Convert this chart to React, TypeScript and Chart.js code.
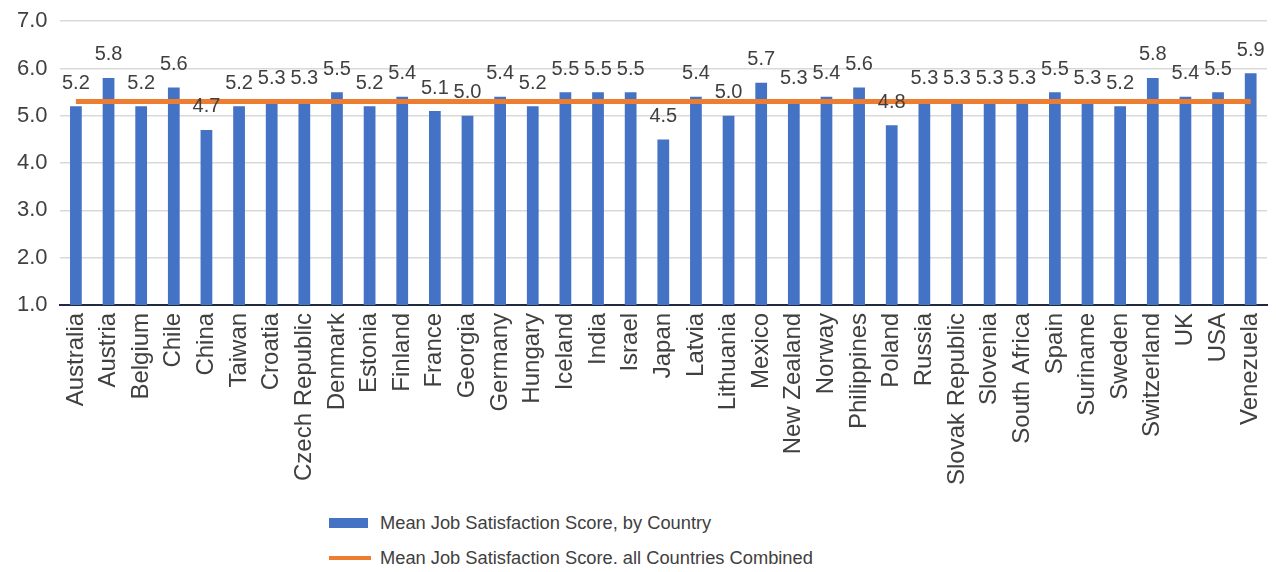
import React, { useEffect, useRef } from "react";
import { Chart, registerables } from "chart.js";

Chart.register(...registerables);

const countries = [
  "Australia", "Austria", "Belgium", "Chile", "China", "Taiwan", "Croatia",
  "Czech Republic", "Denmark", "Estonia", "Finland", "France", "Georgia",
  "Germany", "Hungary", "Iceland", "India", "Israel", "Japan", "Latvia",
  "Lithuania", "Mexico", "New Zealand", "Norway", "Philippines", "Poland",
  "Russia", "Slovak Republic", "Slovenia", "South Africa", "Spain", "Suriname",
  "Sweden", "Switzerland", "UK", "USA", "Venezuela",
];

const countryScores = [
  5.2, 5.8, 5.2, 5.6, 4.7, 5.2, 5.3, 5.3, 5.5, 5.2, 5.4, 5.1, 5.0, 5.4, 5.2,
  5.5, 5.5, 5.5, 4.5, 5.4, 5.0, 5.7, 5.3, 5.4, 5.6, 4.8, 5.3, 5.3, 5.3, 5.3,
  5.5, 5.3, 5.2, 5.8, 5.4, 5.5, 5.9,
];

const combinedMean = 5.3;

const seriesNames = [
  "Mean Job Satisfaction Score, by Country",
  "Mean Job Satisfaction Score, all Countries Combined",
];

const BLUE = "#4472C4";
const ORANGE = "#ED7D31";
const FONT = "'Liberation Sans', Arial, sans-serif";

const valueLabels = {
  id: "valueLabels",
  afterDatasetsDraw(chart: any) {
    const meta = chart.getDatasetMeta(1);
    const ctx = chart.ctx;
    ctx.save();
    ctx.font = `20px ${FONT}`;
    ctx.fillStyle = "#404040";
    ctx.textAlign = "center";
    ctx.textBaseline = "middle";
    meta.data.forEach((el: any, i: number) => {
      ctx.fillText(countryScores[i].toFixed(1), el.x, el.y - 23);
    });
    ctx.restore();
  },
};

export default function App() {
  const ref = useRef<HTMLCanvasElement | null>(null);

  useEffect(() => {
    if (!ref.current) return;
    const chart = new Chart(ref.current, {
      type: "bar",
      data: {
        labels: countries,
        datasets: [
          {
            type: "line",
            label: seriesNames[1],
            data: countries.map(() => combinedMean),
            borderColor: ORANGE,
            backgroundColor: ORANGE,
            borderWidth: 5,
            pointRadius: 0,
            order: 0,
          } as any,
          {
            type: "bar",
            label: seriesNames[0],
            data: countryScores,
            backgroundColor: BLUE,
            barPercentage: 0.36,
            categoryPercentage: 1,
            order: 1,
          },
        ],
      },
      options: {
        responsive: false,
        animation: false,
        layout: { padding: { left: 9, right: 1, top: -1, bottom: 0 } },
        plugins: {
          legend: { display: false },
          tooltip: { enabled: false },
        },
        scales: {
          x: {
            grid: { display: false, drawTicks: false },
            border: { display: true, color: "#1f2a3c", width: 2 },
            ticks: {
              color: "#404040",
              font: { family: FONT, size: 24 },
              minRotation: 90,
              maxRotation: 90,
              autoSkip: false,
              padding: 8,
            },
            afterFit: (scale: any) => {
              scale.paddingLeft = 0;
              scale.paddingRight = 0;
            },
          },
          y: {
            min: 1,
            max: 7,
            grid: {
              color: "#d9d9d9",
              lineWidth: 1.5,
              drawTicks: true,
              tickLength: 12,
              tickColor: "rgba(0,0,0,0)",
            },
            border: { display: false },
            ticks: {
              stepSize: 1,
              color: "#404040",
              font: { family: FONT, size: 22 },
              padding: 0,
              callback: (v: any) => Number(v).toFixed(1),
            },
          },
        },
      },
      plugins: [valueLabels],
    });
    return () => chart.destroy();
  }, []);

  const textStyle: React.CSSProperties = {
    position: "absolute",
    left: 372,
    fontFamily: FONT,
    fontSize: 18.3,
    color: "#404040",
    lineHeight: "22px",
    whiteSpace: "nowrap",
  };

  return (
    <div style={{ position: "relative", width: 1260, height: 556 }}>
      <canvas ref={ref} width={1260} height={485} style={{ display: "block" }} />
      <div style={{ position: "absolute", left: 321, top: 510, width: 39, height: 10, background: BLUE }} />
      <div style={{ ...textStyle, top: 504 }}>{seriesNames[0]}</div>
      <div style={{ position: "absolute", left: 321, top: 548, width: 42, height: 4, background: ORANGE }} />
      <div style={{ ...textStyle, top: 539 }}>{seriesNames[1]}</div>
    </div>
  );
}
